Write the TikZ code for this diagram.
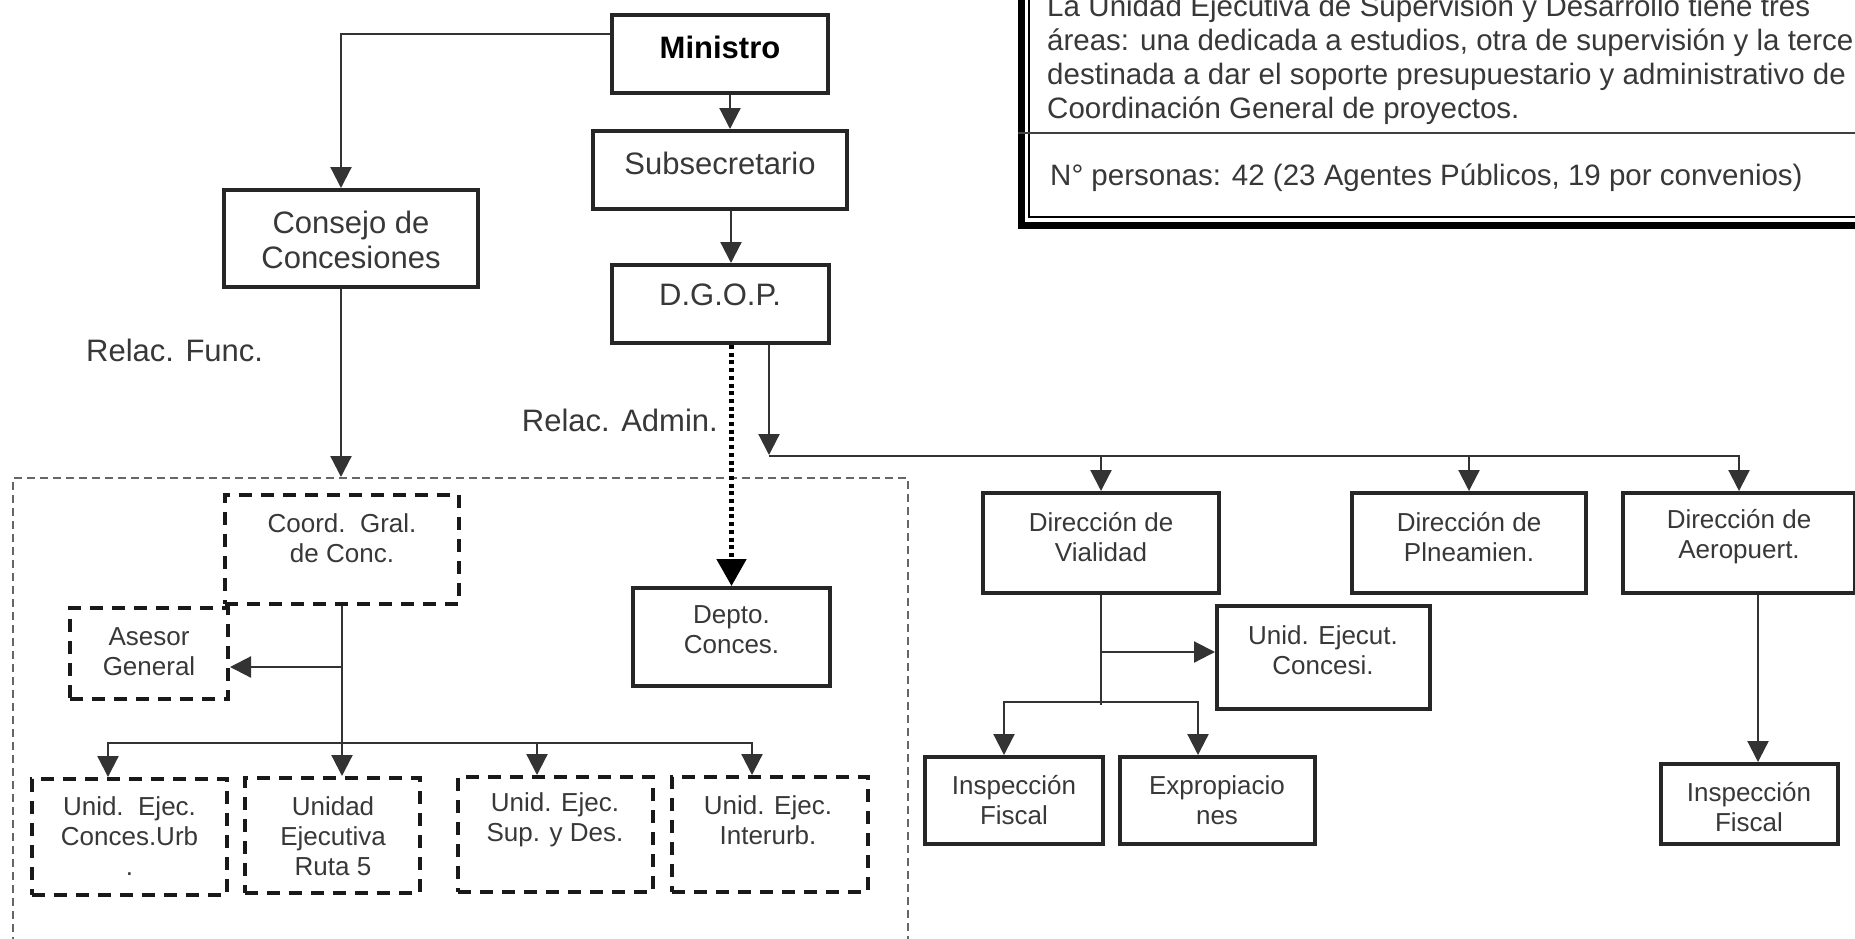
\documentclass[tikz,border=0pt]{standalone}
\usepackage{fontspec}
\setmainfont{Liberation Sans}
\usetikzlibrary{arrows.meta}
\begin{document}
\begin{tikzpicture}[x=1pt,y=-1pt,
  sz/.style 2 args={minimum width=#1pt, minimum height=#2pt},
  box/.style={draw=black!85, line width=4pt, rectangle, inner sep=0pt},
  dbox/.style={draw=black!90, line width=4pt, dash pattern=on 13pt off 9pt, rectangle, inner sep=0pt},
  framebox/.style={draw=black!60, line width=1.6pt, dash pattern=on 8pt off 5pt, rectangle, inner sep=0pt},
  big/.style={font=\fontsize{31pt}{35pt}\selectfont, text=black!78, align=center, inner sep=0pt},
  small/.style={font=\fontsize{26pt}{30pt}\selectfont, text=black!78, align=center, inner sep=0pt},
  note/.style={font=\fontsize{29.5pt}{34pt}\selectfont, text=black!78, anchor=base west, inner sep=0pt},
  line/.style={draw=black!80, line width=2.2pt},
  arr/.style={line, -{Triangle[width=21pt,length=21pt]}},
  dotarr/.style={draw=black, line width=5pt, dash pattern=on 4pt off 3.7pt, -{Triangle[width=29pt,length=27pt]}},
]
\fill[white] (0,0) rectangle (1855,938);
\clip (0,0) rectangle (1855,938);

% dashed frame around the concessions units
\node[framebox, anchor=north west, sz={895}{520}] (frame) at (12,477) {};

% top of the hierarchy
\node[box, sz={216}{78}] (ministro) at (720,54) {};
\node[big, font=\fontsize{31pt}{35pt}\selectfont\bfseries, text=black] (ministro-t) at (720,47) {Ministro};
\node[box, sz={254}{78}] (subsec) at (720,170) {};
\node[big] (subsec-t) at (720,163) {Subsecretario};
\node[box, sz={217}{78}] (dgop) at (720,304) {};
\node[big] (dgop-t) at (720,295) {D.G.O.P.};
\node[box, sz={254}{97}] (consejo) at (351,238.5) {};
\node[big] (consejo-t) at (351,240) {Consejo de\\Concesiones};

\node[big, anchor=west] (relfunc) at (86,350) {Relac. Func.};
\node[big, anchor=east] (reladm) at (718,420) {Relac. Admin.};

% concessions units
\node[dbox, sz={234}{109}] (coord) at (342,549.5) {};
\node[small] (coord-t) at (342,538) {Coord.\ \ Gral.\\de Conc.};
\node[dbox, sz={158}{91}] (asesor) at (149,653.5) {};
\node[small] (asesor-t) at (149,652) {Asesor\\General};
\node[box, sz={197}{98}] (depto) at (731.5,637) {};
\node[small] (depto-t) at (731.5,630) {Depto.\\Conces.};
\node[dbox, sz={195}{116}] (ueurb) at (129.5,837) {};
\node[small] (ueurb-t) at (129.5,836) {Unid.\ \ Ejec.\\Conces.Urb\\.};
\node[dbox, sz={175}{115}] (ruta5) at (332.5,835.5) {};
\node[small] (ruta5-t) at (333,836) {Unidad\\Ejecutiva\\Ruta 5};
\node[dbox, sz={195}{115}] (supdes) at (555.5,834.5) {};
\node[small] (supdes-t) at (555,820) {Unid. Ejec.\\Sup. y Des.};
\node[dbox, sz={196}{115}] (interurb) at (770,834.5) {};
\node[small] (interurb-t) at (768,820) {Unid. Ejec.\\Interurb.};

% directorates
\node[box, sz={236}{100}] (dirvia) at (1101,543) {};
\node[small] (dirvia-t) at (1101,537) {Dirección de\\Vialidad};
\node[box, sz={234}{100}] (dirpla) at (1469,543) {};
\node[small] (dirpla-t) at (1469,537) {Dirección de\\Plneamien.};
\node[box, sz={232}{100}] (diraer) at (1739,543) {};
\node[small] (diraer-t) at (1739,537) {Dirección de\\Aeropuert.};
\node[box, sz={213}{103}] (uecon) at (1323.5,657.5) {};
\node[small] (uecon-t) at (1323,650) {Unid. Ejecut.\\Concesi.};
\node[box, sz={178}{87}] (insp1) at (1014,800.5) {};
\node[small] (insp1-t) at (1014,800) {Inspección\\Fiscal};
\node[box, sz={195}{87}] (exprop) at (1217.5,800.5) {};
\node[small] (exprop-t) at (1217,800) {Expropiacio\\nes};
\node[box, sz={177}{80}] (insp2) at (1749.5,804) {};
\node[small] (insp2-t) at (1749,807) {Inspección\\Fiscal};

% connectors: upper levels
\draw[arr] ([yshift=20pt]ministro.west) -| ([xshift=-10pt]consejo.north);
\draw[arr] ([xshift=10pt]ministro.south) -- ([xshift=10pt]subsec.north);
\draw[arr] ([xshift=11pt]subsec.south) -- ([xshift=11pt]dgop.north);
\draw[arr] ([xshift=-10pt]consejo.south) -- ([xshift=-10pt]consejo.south |- frame.north);
\draw[dotarr] (depto.north |- dgop.south) -- (depto.north);

% DGOP to directorates
\coordinate (busw) at (769,456);
\draw[arr] ([xshift=49pt]dgop.south) -- ([yshift=1pt]busw);
\draw[arr] (busw) -| (diraer.north);
\draw[arr] (dirvia.north |- busw) -- (dirvia.north);
\draw[arr] (dirpla.north |- busw) -- (dirpla.north);

% coordination to its units
\draw[arr] (coord.south) -- (coord.south |- ruta5.north);
\draw[arr] ([yshift=-61pt]coord.south) -- ([yshift=-61pt]coord.south -| asesor.east);
\coordinate (cbus) at ([yshift=-137pt]coord.south);
\draw[arr] (cbus) -| ([xshift=-21.5pt]ueurb.north);
\draw[arr] (cbus) -| ([xshift=-18pt]interurb.north);
\draw[arr] ([xshift=-18.5pt]supdes.north |- cbus) -- ([xshift=-18.5pt]supdes.north);

% Vialidad branches
\draw[line] (dirvia.south) -- ([yshift=-110pt]dirvia.south);
\draw[arr] ([yshift=-57pt]dirvia.south) -- ([yshift=-57pt]dirvia.south -| uecon.west);
\coordinate (vbus) at ([yshift=-107pt]dirvia.south);
\draw[arr] (vbus) -| ([xshift=-10pt]insp1.north);
\draw[arr] (vbus) -| ([xshift=-19.5pt]exprop.north);

% Aeropuertos branch
\draw[arr] ([xshift=19pt]diraer.south) -- ([xshift=19pt]diraer.south |- insp2.north);

% note panel with double border
\draw[black, line width=7pt] (1021.5,-20) -- (1021.5,225) -- (1880,225);
\draw[black, line width=2pt] (1029,-20) -- (1029,217) -- (1880,217);
\draw[black!75, line width=2.5pt] (1018,133) -- (1880,133);
\node[note] (n1) at (1047,16) {\makebox[763pt][s]{La Unidad Ejecutiva de Supervisión y Desarrollo tiene tres}};
\node[note] (n2) at (1047,50) {áreas: una dedicada a estudios, otra de supervisión y la terce};
\node[note] (n3) at (1047,84) {destinada a dar el soporte presupuestario y administrativo de};
\node[note] (n4) at (1047,118) {Coordinación General de proyectos.};
\node[note] (n5) at (1050,185) {N° personas: 42 (23 Agentes Públicos, 19 por convenios)};
\end{tikzpicture}
\end{document}
